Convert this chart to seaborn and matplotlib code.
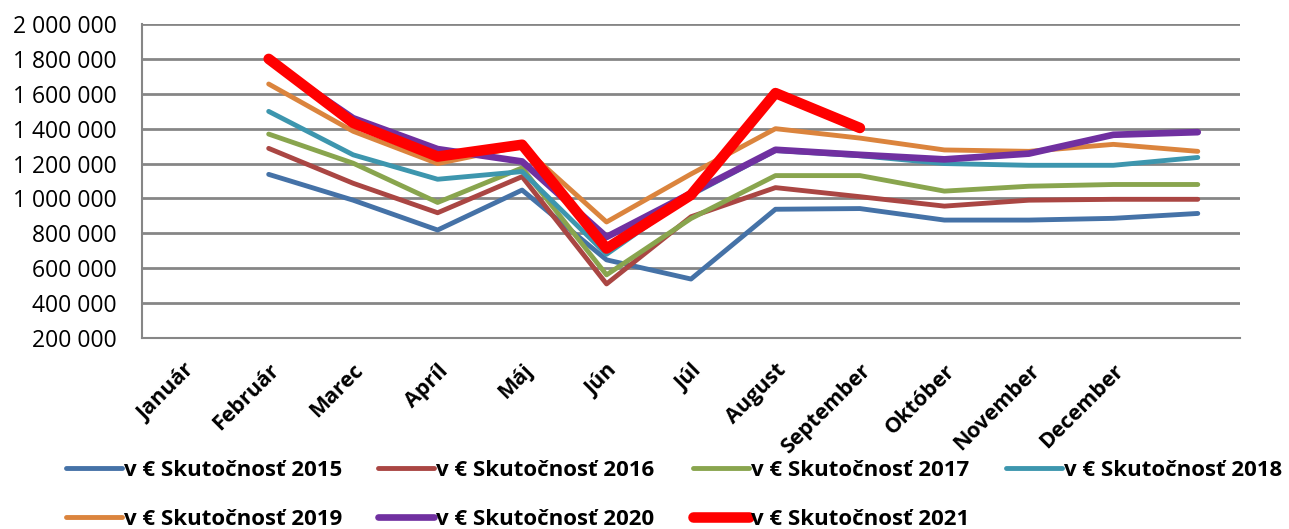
import numpy as np
import pandas as pd
import matplotlib
matplotlib.use("Agg")
import matplotlib.pyplot as plt
from matplotlib.ticker import FixedLocator, FuncFormatter
import seaborn as sns

nan = np.nan

# categories (13 slots on the axis; data sits one slot right of its label, as in the source)
months = ["Január", "Február", "Marec", "Apríl", "Máj", "Jún", "Júl",
          "August", "September", "Október", "November", "December", ""]

s2015 = [nan, 1138000, 990000, 819000, 1048000, 648000, 538000, 938000, 942000, 876000, 876000, 886000, 914000]
s2016 = [nan, 1287000, 1087000, 918000, 1125000, 510000, 895000, 1062000, 1010000, 956000, 990000, 995000, 995000]
s2017 = [nan, 1369000, 1202000, 977000, 1175000, 562000, 885000, 1131000, 1131000, 1042000, 1070000, 1080000, 1080000]
s2018 = [nan, 1499000, 1250000, 1110000, 1154000, 680000, 1020000, 1275000, 1245000, 1200000, 1190000, 1190000, 1235000]
s2019 = [nan, 1656000, 1385000, 1200000, 1300000, 865000, 1140000, 1400000, 1346000, 1278000, 1270000, 1310000, 1270000]
s2020 = [nan, 1790000, 1460000, 1283000, 1212000, 779000, 1030000, 1279000, 1250000, 1224000, 1257000, 1365000, 1380000]
s2021 = [nan, 1800000, 1433000, 1240000, 1308000, 713000, 1020000, 1604000, 1404000, nan, nan, nan, nan]

labels = ["v € Skutočnosť 2015", "v € Skutočnosť 2016", "v € Skutočnosť 2017",
          "v € Skutočnosť 2018", "v € Skutočnosť 2019", "v € Skutočnosť 2020",
          "v € Skutočnosť 2021"]
series = [s2015, s2016, s2017, s2018, s2019, s2020, s2021]

colors = ["#4572A7", "#AA4643", "#89A54E", "#3D96AE", "#DB843D", "#7030A0", "#FF0000"]
widths = [3.5, 3.5, 3.5, 3.5, 3.5, 4.8, 7.6]

rows = []
for lab, vals in zip(labels, series):
    for i, v in enumerate(vals):
        rows.append({"x": i, "value": v, "series": lab})
df = pd.DataFrame(rows).dropna()

sns.set_style("white")
plt.rcParams["font.family"] = ["Open Sans", "DejaVu Sans"]
plt.rcParams["text.color"] = "black"
plt.rcParams["xtick.labelcolor"] = "black"
plt.rcParams["ytick.labelcolor"] = "black"

fig = plt.figure(figsize=(12.89, 5.29), dpi=100)
ax = fig.add_axes([142 / 1289, 1 - 338 / 529, (1240 - 142) / 1289, (338 - 24) / 529])

sns.lineplot(data=df, x="x", y="value", hue="series", hue_order=labels,
             palette=dict(zip(labels, colors)), size="series", size_order=labels,
             sizes=dict(zip(labels, widths)), legend=False, sort=False, ax=ax)
for ln in ax.lines:
    ln.set_solid_capstyle("round")
    ln.set_solid_joinstyle("round")

grid_c = "#868686"
ax.set_xlim(-0.5, len(months) - 0.5)
ax.set_ylim(200000, 2000000)
ax.set_yticks(np.arange(200000, 2000001, 200000))
ax.yaxis.set_major_formatter(FuncFormatter(lambda v, p: f"{v:,.0f}".replace(",", " ")))
ax.grid(axis="y", color=grid_c, linewidth=2.0)
ax.set_axisbelow(True)

# tick marks between categories, labels at category centres
ax.xaxis.set_major_locator(FixedLocator(np.arange(-0.5, len(months), 1.0)))
ax.xaxis.set_minor_locator(FixedLocator(np.arange(len(months))))
ax.set_xticklabels([])
ax.set_xticklabels(months, minor=True, rotation=45, ha="right",
                   rotation_mode="anchor", fontweight="bold", fontsize=15.5)
ax.tick_params(axis="x", which="major", length=6, width=1.5, color=grid_c, direction="out")
ax.tick_params(axis="x", which="minor", length=0, pad=16)
ax.tick_params(axis="y", length=7, width=2, color=grid_c, labelsize=16.5, pad=11)

for side in ["top", "right"]:
    ax.spines[side].set_visible(False)
for side in ["left", "bottom"]:
    ax.spines[side].set_color(grid_c)
    ax.spines[side].set_linewidth(1.5)
ax.set_xlabel("")
ax.set_ylabel("")

handles = ax.lines[:7]
cols = [[0, 4], [1, 5], [2, 6], [3]]
col_x = [66, 378, 693, 1006]
for idx, cx in zip(cols, col_x):
    fig.legend([handles[i] for i in idx], [labels[i] for i in idx],
               loc="upper left", bbox_to_anchor=(cx / 1289, 1 - 460 / 529),
               frameon=False, borderpad=0, borderaxespad=0, handlelength=2.5,
               handletextpad=0.1, labelspacing=1.25,
               prop={"weight": "bold", "size": 16})

fig.savefig("out.png", dpi=100)
